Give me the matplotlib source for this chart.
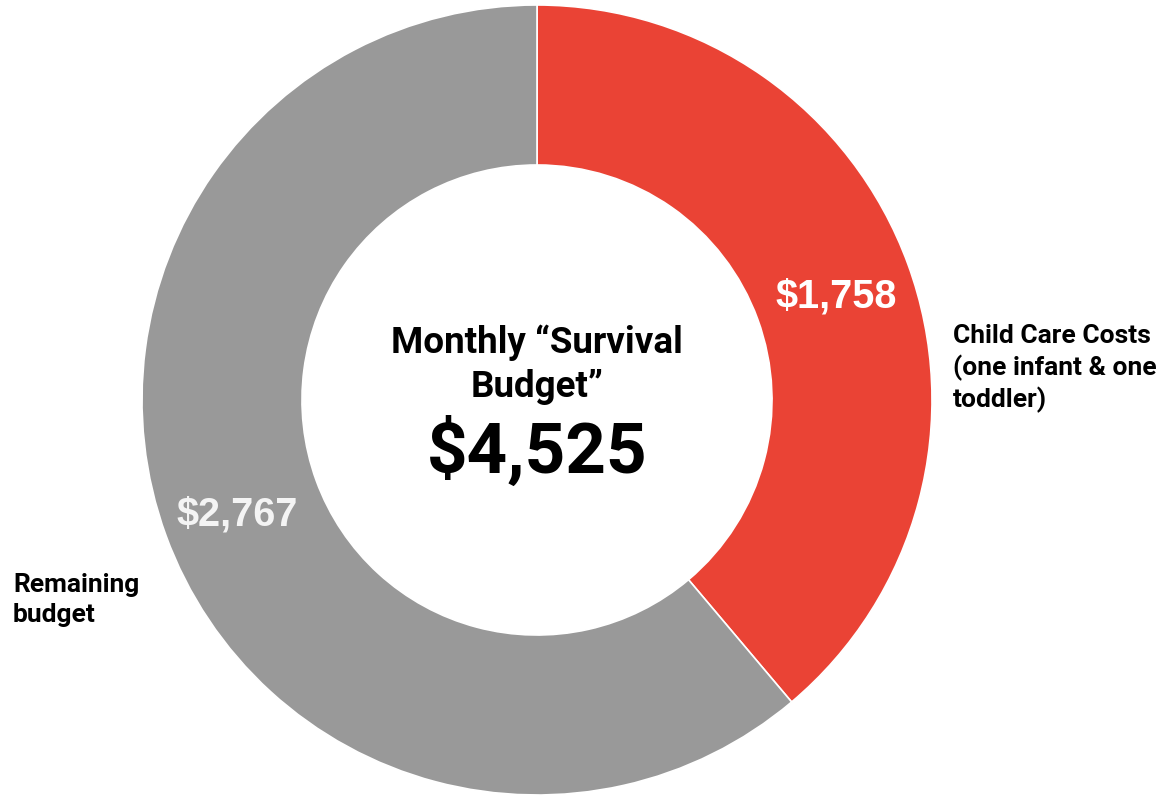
import matplotlib
matplotlib.use("Agg")
import matplotlib.pyplot as plt

# Monthly budget split
categories = ["Child Care Costs", "Remaining budget"]
values = [1758, 2767]
value_labels = ["$1,758", "$2,767"]
total_label = "$4,525"
colors = ["#EA4335", "#999999"]

W, H = 1171, 798
fig = plt.figure(figsize=(W / 100, H / 100), dpi=100)
ax = fig.add_axes([0, 0, 1, 1])

cx, cy, R = 537, H - 400, 395
ax.pie(values, colors=colors, startangle=90, counterclock=False,
       center=(cx, cy), radius=R, frame=True,
       wedgeprops=dict(width=R * 0.405, edgecolor="white", linewidth=1.2))
ax.set_xlim(0, W)
ax.set_ylim(0, H)
ax.set_aspect("equal")
ax.axis("off")


def y(px):
    return H - px


# Values on the ring
ax.text(836, y(307), value_labels[0], ha="center", va="baseline",
        color="white", fontsize=28.5, fontweight="bold", family="Liberation Sans")
ax.text(237, y(525), value_labels[1], ha="center", va="baseline",
        color="#f4f4f4", fontsize=28.5, fontweight="bold", family="Liberation Sans")

# Category labels
for i, line in enumerate(["Child Care Costs", "(one infant & one", "toddler)"]):
    ax.text(953, y(343 + 32 * i), line, ha="left", va="baseline",
            fontsize=19, fontweight="bold", family="Roboto", color="black")
for i, line in enumerate(["Remaining", "budget"]):
    ax.text(13, y(592 + 30 * i), line, ha="left", va="baseline",
            fontsize=19, fontweight="bold", family="Roboto", color="black")

# Centre title
ax.text(cx, y(353), "Monthly \u201cSurvival", ha="center", va="baseline",
        fontsize=26.5, fontweight="bold", family="Roboto", color="black")
ax.text(cx, y(397), "Budget\u201d", ha="center", va="baseline",
        fontsize=26.5, fontweight="bold", family="Roboto", color="black")
ax.text(cx, y(473), total_label, ha="center", va="baseline",
        fontsize=51, fontweight="bold", family="Roboto", color="black")

fig.savefig("out.png", dpi=100, facecolor="white")
